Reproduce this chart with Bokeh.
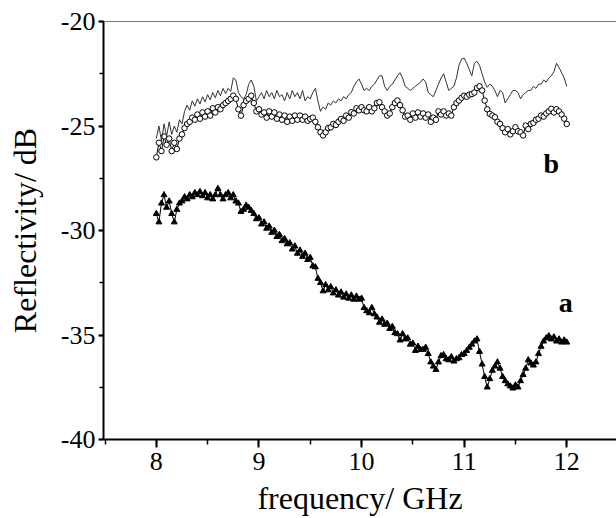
import numpy as np
from bokeh.plotting import figure
from bokeh.models import Range1d, SingleIntervalTicker, LinearAxis, FixedTicker, Label
from bokeh.embed import file_html
from bokeh.resources import INLINE

# sampling frequencies (GHz), 8.000 ... 12.000 every 0.025
freq_ghz = np.round(np.arange(161) * 0.025 + 8.0, 3)

# curve a (filled triangles)
refl_a = [
    -29.2, -29.6, -28.7, -28.3, -28.9, -28.6, -29.2, -29.6,
    -29.0, -28.7, -28.6, -28.4, -28.5, -28.3, -28.4, -28.2,
    -28.3, -28.15, -28.35, -28.2, -28.45, -28.3, -28.5, -28.3,
    -28.0, -28.3, -28.5, -28.3, -28.2, -28.45, -28.3, -28.6,
    -28.7, -29.1, -29.0, -28.8, -28.9, -29.05, -29.2, -29.45,
    -29.4, -29.7, -29.6, -29.9, -29.8, -30.1, -30.0, -30.3,
    -30.2, -30.5, -30.4, -30.65, -30.6, -30.9, -30.75, -31.1,
    -30.95, -31.25, -31.1, -31.4, -31.3, -31.7, -31.75, -32.3,
    -32.5, -32.9, -32.6, -32.85, -32.7, -33.0, -32.85, -33.1,
    -32.95, -33.2, -33.05, -33.25, -33.1, -33.3, -33.15, -33.3,
    -33.25, -33.7, -33.85, -33.95, -33.7, -34.0, -34.15, -34.4,
    -34.25, -34.5, -34.45, -34.7, -34.6, -34.9, -34.95, -35.25,
    -34.95, -35.2, -35.15, -35.45, -35.4, -35.75, -35.55, -35.7,
    -35.7, -35.6, -35.9, -36.3, -36.5, -36.66, -36.3, -36.0,
    -35.95, -36.15, -36.2, -36.05, -36.26, -36.15, -36.1, -35.95,
    -35.9, -35.75, -35.6, -35.45, -35.3, -35.2, -35.8, -36.4,
    -37.0, -37.5, -37.1, -36.7, -36.5, -36.3, -36.6, -37.0,
    -37.2, -37.35, -37.45, -37.55, -37.4, -37.5, -37.2, -36.9,
    -36.6, -36.2, -36.35, -36.45, -36.3, -35.9, -35.55, -35.3,
    -35.15, -35.05, -35.2, -35.1, -35.3, -35.2, -35.35, -35.25,
    -35.35,
]

# curve b (open circles)
refl_b = [
    -26.5, -25.8, -26.2, -25.5, -25.9, -25.6, -26.2, -25.8,
    -26.1, -25.6, -25.4, -25.1, -24.9, -24.8, -24.6, -24.7,
    -24.45, -24.65, -24.35, -24.55, -24.3, -24.5, -24.15, -24.35,
    -24.1, -24.2, -24.0, -23.9, -23.8, -23.7, -23.55, -23.7,
    -24.2, -24.5, -24.0, -23.8, -23.7, -23.55, -23.9, -24.3,
    -24.2, -24.45, -24.35, -24.6, -24.3, -24.55, -24.35, -24.65,
    -24.45, -24.7, -24.5, -24.8, -24.55, -24.75, -24.5, -24.7,
    -24.5, -24.7, -24.55, -24.75, -24.66, -24.6, -24.8, -25.06,
    -25.3, -25.45, -25.3, -25.1, -25.06, -24.9, -24.95, -24.8,
    -24.66, -24.75, -24.5, -24.6, -24.34, -24.4, -24.15, -24.25,
    -24.1, -24.25, -24.3, -24.1, -24.3, -24.15, -23.9, -23.86,
    -24.1, -24.3, -24.5, -24.4, -24.1, -23.9, -23.78, -24.0,
    -24.25, -24.55, -24.5, -24.7, -24.4, -24.6, -24.35, -24.55,
    -24.4, -24.6, -24.45, -24.8, -24.6, -24.7, -24.3, -24.45,
    -24.3, -24.5, -24.4, -24.5, -24.1, -23.9, -23.78, -23.65,
    -23.55, -23.6, -23.5, -23.47, -23.4, -23.18, -23.1, -23.3,
    -23.78, -24.2, -24.42, -24.5, -24.58, -24.8, -24.9, -25.1,
    -25.3, -25.15, -25.4, -25.25, -25.06, -25.25, -25.3, -25.45,
    -24.98, -25.15, -24.9, -24.85, -24.7, -24.65, -24.5, -24.55,
    -24.4, -24.3, -24.18, -24.35, -24.2, -24.3, -24.45, -24.65,
    -24.9,
]

# upper thin line (no markers)
refl_b_line = [
    -25.6, -25.0, -25.7, -24.9, -25.5, -24.8, -25.4, -25.0,
    -25.3, -24.7, -24.9, -24.3, -24.0, -24.25, -23.8, -24.05,
    -23.7, -23.95, -23.6, -23.85, -23.5, -23.75, -23.4, -23.65,
    -23.3, -23.55, -23.2, -23.45, -23.2, -23.35, -22.7, -22.8,
    -23.4, -23.6, -23.7, -23.5, -23.0, -22.8, -23.1, -23.8,
    -23.6, -23.4, -23.7, -23.3, -23.6, -23.4, -23.7, -23.3,
    -23.6, -23.5, -23.8, -23.4, -23.7, -23.3, -23.6, -23.4,
    -23.7, -23.3, -23.8, -23.6, -23.7, -23.4, -23.2, -23.8,
    -24.3, -24.1, -24.2, -23.9, -24.0, -23.8, -23.9, -23.7,
    -23.8, -23.6, -23.7, -23.5, -23.4, -23.1, -22.9, -22.75,
    -23.0, -23.3, -23.2, -23.3, -23.1, -23.0, -22.8, -22.6,
    -22.6, -23.1, -23.3, -23.1, -23.0, -22.8, -22.6, -22.45,
    -22.7, -23.1, -23.2, -23.3, -23.2, -23.1, -23.0, -22.9,
    -22.75, -22.9, -23.4, -23.5, -23.6, -23.3, -23.0, -22.7,
    -22.5, -22.9, -23.3, -23.2, -23.1, -22.7, -22.1, -21.8,
    -21.75, -22.0, -22.3, -22.6, -22.0, -21.9, -22.1, -22.5,
    -22.9, -23.15, -23.0, -23.1, -23.3, -23.6, -23.3, -23.4,
    -23.9, -23.7, -23.5, -23.3, -23.3, -23.4, -23.7, -23.5,
    -23.4, -23.3, -23.3, -23.1, -23.2, -23.0, -23.0, -22.8,
    -22.9, -22.7, -22.6, -22.4, -22.0, -22.2, -22.45, -22.7,
    -23.1,
]

y_tick_labels = {-40: "-40", -35: "-35", -30: "-30", -25: "-25", -20: "-20"}
x_tick_labels = {8: "8", 9: "9", 10: "10", 11: "11", 12: "12"}
curve_labels = ["a", "b"]

FONT = "Liberation Serif"

p = figure(width=616, height=518, output_backend="svg", toolbar_location=None,
           x_range=Range1d(7.485, 12.485), y_range=Range1d(-40, -20),
           min_border_left=103, min_border_top=21, min_border_bottom=78,
           min_border_right=0)
p.grid.visible = False
p.outline_line_color = None
p.background_fill_color = "white"
p.border_fill_color = "white"

xa = p.xaxis[0]
xa.ticker = SingleIntervalTicker(interval=1, num_minor_ticks=2)
xa.major_label_overrides = x_tick_labels
ya = p.yaxis[0]
ya.ticker = SingleIntervalTicker(interval=5, num_minor_ticks=2)
ya.major_label_overrides = y_tick_labels

for ax in (xa, ya):
    ax.axis_line_width = 2
    ax.axis_line_color = "black"
    ax.major_tick_in = 0
    ax.minor_tick_in = 0
    ax.major_tick_line_width = 2
    ax.minor_tick_line_width = 1.5
    ax.major_tick_line_color = "black"
    ax.minor_tick_line_color = "black"
    ax.major_label_text_font = FONT
    ax.major_label_text_font_size = "26px"
    ax.major_label_text_color = "black"
    ax.axis_label_text_font = FONT
    ax.axis_label_text_font_size = "32px"
    ax.axis_label_text_font_style = "normal"
    ax.axis_label_text_color = "black"

xa.major_tick_out = 8
xa.minor_tick_out = 5
xa.major_label_standoff = 5
xa.axis_label = "frequency/ GHz"
xa.axis_label_standoff = 7

ya.major_tick_out = 5
ya.minor_tick_out = 4
ya.major_label_standoff = 3
ya.axis_label = "Reflectivity/ dB"
ya.axis_label_standoff = 15

top = LinearAxis(ticker=FixedTicker(ticks=[]), axis_line_color="#777777",
                 axis_line_width=1, major_tick_line_color=None,
                 minor_tick_line_color=None, major_label_text_font_size="0px")
p.add_layout(top, "above")

# curve a
p.line(freq_ghz, refl_a, line_color="black", line_width=1)
p.scatter(freq_ghz, refl_a, marker="triangle", size=6,
          fill_color="black", line_color="black", line_width=1)
# curve b
p.line(freq_ghz, refl_b, line_color="black", line_width=1)
p.scatter(freq_ghz, refl_b, marker="circle", size=5.5,
          fill_color="white", line_color="black", line_width=1)
# upper thin line
p.line(freq_ghz, refl_b_line, line_color="#333333", line_width=1)

p.add_layout(Label(x=11.85, y=-26.8, text=curve_labels[1], text_font=FONT,
                   text_font_style="bold", text_font_size="28px",
                   text_align="center", text_baseline="alphabetic",
                   text_color="black"))
p.add_layout(Label(x=11.99, y=-33.45, text=curve_labels[0], text_font=FONT,
                   text_font_style="bold", text_font_size="28px",
                   text_align="center", text_baseline="alphabetic",
                   text_color="black"))

open("out.html", "w").write(file_html(p, INLINE))
